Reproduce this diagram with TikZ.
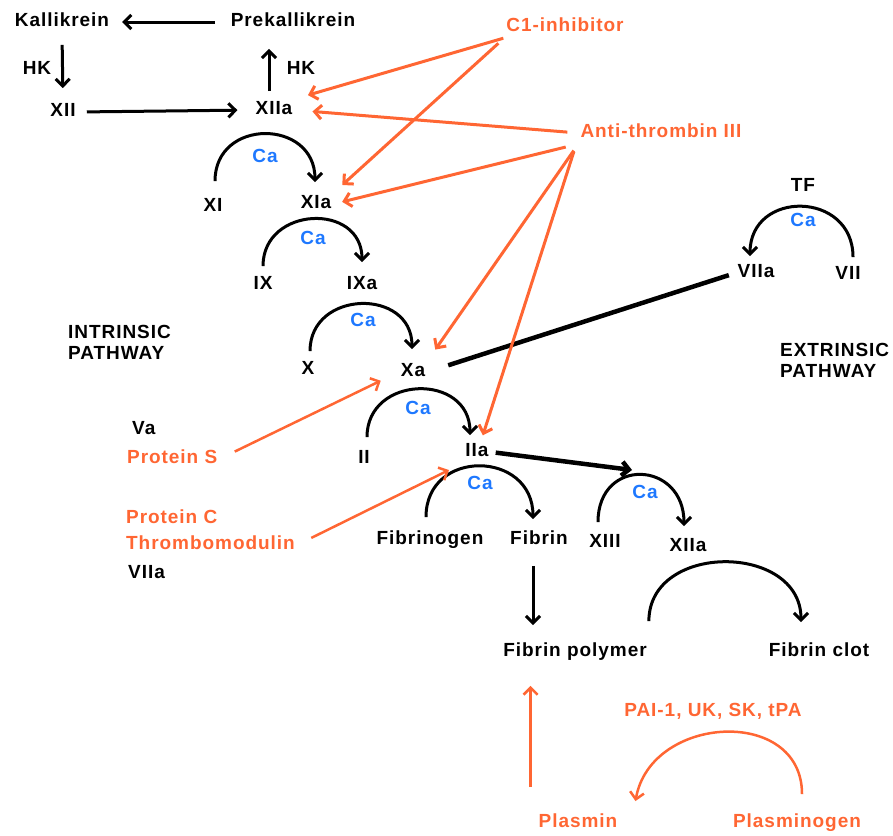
\documentclass[tikz,border=0pt]{standalone}
\usepackage{fontspec}
\newfontfamily\labelfont{Liberation Sans Bold}[LetterSpace=5]
\usetikzlibrary{arrows.meta}

\definecolor{inhib}{RGB}{255,102,51}
\definecolor{cablue}{RGB}{30,120,255}

\tikzstyle{factor}=[inner sep=2pt,
                    text height=13.5pt,
                    text depth=4pt,
                    font=\labelfont\fontsize{19}{21}\selectfont]
\tikzstyle{inhibitor}=[factor, text=inhib]
\tikzstyle{ion}=[factor, text=cablue]
\tikzstyle{act}=[-{Straight Barb[length=7pt,width=14pt]}, line width=3pt]
\tikzstyle{conv}=[act, out=90, in=90]
\tikzstyle{block}=[act, color=inhib]

\begin{document}
\begin{tikzpicture}[x=1pt,y=1pt]
  \useasboundingbox (0,0) rectangle (893,-835);

  % Contact (intrinsic) pathway:
  \node (kallikrein)    [factor] at (62,-22)  {Kallikrein};
  \node (prekallikrein) [factor] at (293,-22) {Prekallikrein};
  \node (hkL)  [factor] at (37,-70)   {HK};
  \node (hkR)  [factor] at (301,-70)  {HK};
  \node (xii)  [factor] at (63,-112)  {XII};
  \node (xiia) [factor] at (274,-110) {XIIa};
  \node (xi)   [factor] at (213,-207) {XI};
  \node (xia)  [factor] at (316,-204) {XIa};
  \node (ca1)  [ion]    at (265,-158) {Ca};
  \node (ix)   [factor] at (263,-285) {IX};
  \node (ixa)  [factor] at (362,-285) {IXa};
  \node (ca2)  [ion]    at (313,-240) {Ca};
  \node (intrinsic) [factor, anchor=west, align=left, text height=, text depth=]
        at (66,-342) {INTRINSIC\\PATHWAY};

  % Common pathway:
  \node (x)    [factor] at (308,-370) {X};
  \node (xa)   [factor] at (413,-372) {Xa};
  \node (ca3)  [ion]    at (363,-322) {Ca};
  \node (ii)   [factor] at (364,-459) {II};
  \node (iia)  [factor] at (477,-452) {IIa};
  \node (ca4)  [ion]    at (418,-410) {Ca};
  \node (fibrinogen) [factor] at (430,-540) {Fibrinogen};
  \node (fibrin)     [factor] at (539,-540) {Fibrin};
  \node (ca5)  [ion]    at (480,-485) {Ca};
  \node (xiii) [factor] at (605,-543) {XIII};
  \node (xiia2)[factor] at (688,-547) {XIIa};
  \node (ca6)  [ion]    at (645,-494) {Ca};
  \node (fibrinpolymer) [factor] at (575,-652) {Fibrin polymer};
  \node (fibrinclot)    [factor] at (819,-652) {Fibrin clot};
  \coordinate (xiiiact) at (632,-470);

  % Tissue factor (extrinsic) pathway:
  \node (tf)   [factor] at (803,-187) {TF};
  \node (cat)  [ion]    at (803,-222) {Ca};
  \node (viia) [factor] at (756,-273) {VIIa};
  \node (vii)  [factor] at (848,-275) {VII};
  \node (extrinsic) [factor, anchor=west, align=left, text height=, text depth=]
        at (778,-360) {EXTRINSIC\\PATHWAY};

  % Inhibitors and cofactors:
  \node (c1inh) [inhibitor] at (565,-27)  {C1-inhibitor};
  \node (at3)   [inhibitor] at (661,-133) {Anti-thrombin III};
  \node (va)    [factor, anchor=west]    at (130,-430) {Va};
  \node (proteinS) [inhibitor, anchor=west] at (125,-459) {Protein S};
  \node (proteinC) [inhibitor, anchor=west] at (124,-519) {Protein C};
  \node (thrombomodulin) [inhibitor, anchor=west] at (124,-545) {Thrombomodulin};
  \node (viiaL) [factor, anchor=west] at (126,-574) {VIIa};

  % Fibrinolysis:
  \node (pai)   [inhibitor] at (713,-712) {PAI-1, UK, SK, tPA};
  \node (plasmin)     [inhibitor] at (578,-823) {Plasmin};
  \node (plasminogen) [inhibitor] at (797,-823) {Plasminogen};

  % Activation arrows:
  \draw[act, shorten <=14pt, shorten >=11pt] (prekallikrein.west) -- (kallikrein.east);
  \draw[act, shorten <=12pt, shorten >=13pt] (kallikrein.south) -- (xii.north);
  \draw[act, shorten <=9pt, shorten >=16pt] (xii.east) -- (xiia.west);
  \draw[act, shorten <=8pt, shorten >=16pt] ([xshift=-5pt]xiia.north)
        -- ([xshift=-5pt]xiia.north |- prekallikrein.south);
  \draw[line width=4.5pt, shorten <=22pt, shorten >=7pt] (xa.east) -- (viia.west);
  \draw[act, line width=4.5pt, shorten <=5pt] (iia.east) -- (xiiiact);
  \draw[act, shorten <=15pt, shorten >=16pt] ([xshift=-6pt]fibrin.south)
        -- ([xshift=-6pt]fibrin.south |- fibrinpolymer.north);

  % Conversions (Ca dependent):
  \draw[conv, looseness=1.62] ([shift={(2,15)}]xi.north) to ([shift={(-1,11)}]xia.north);
  \draw[conv, looseness=1.55] ([shift={(0,8)}]ix.north) to ([shift={(0,12)}]ixa.north);
  \draw[conv, looseness=1.54] ([shift={(2,8)}]x.north) to ([shift={(-1,12)}]xa.north);
  \draw[conv, looseness=1.55] ([shift={(3,11)}]ii.north) to ([shift={(-7,6)}]iia.north);
  \draw[conv, looseness=1.65] ([shift={(-4,12)}]fibrinogen.north) to ([shift={(-6,10)}]fibrin.north);
  \draw[conv, looseness=1.95] ([shift={(-7,10)}]xiii.north) to ([shift={(-4,10)}]xiia2.north);
  \draw[conv, looseness=1.65] ([shift={(5,7)}]vii.north) to ([shift={(-6,6)}]viia.north);
  \draw[conv, looseness=1.33] ([shift={(0,20)}]fibrinpolymer.north east) to ([shift={(-18,19)}]fibrinclot.north);

  % Inhibition:
  \path[block]
    (c1inh.south west) edge[shorten <=1pt, shorten >=14pt] (xiia.north east)
    (c1inh.south west) edge[shorten <=8pt, shorten >=12pt] (xia.north east)
    (at3.west) edge[shorten <=11pt, shorten >=18pt] (xiia.east)
    (at3.south west) edge[shorten <=13pt, shorten >=9pt] (xia.east)
    (at3.south west) edge[shorten <=8pt, shorten >=14pt] (xa.north east)
    ([xshift=-2pt]at3.south west) edge[shorten <=8pt, shorten >=6pt] ([xshift=4pt]iia.north)
;
  \path[block, line width=2.5pt]
    (proteinS.east) edge[shorten <=17pt, shorten >=20pt] (xa.west)
    (thrombomodulin.east) edge[shorten <=16pt, shorten >=16pt] (iia.south west)
    ([xshift=-6pt]plasmin.north west) edge[shorten <=25pt, shorten >=23pt]
        ([xshift=-6pt]plasmin.north west |- fibrinpolymer.south)
;
  \draw[block, line width=2.5pt, looseness=1.35, out=90, in=80]
    ([shift={(5,18)}]plasminogen.north) to ([shift={(16,11)}]plasmin.north east);

\end{tikzpicture}
\end{document}
